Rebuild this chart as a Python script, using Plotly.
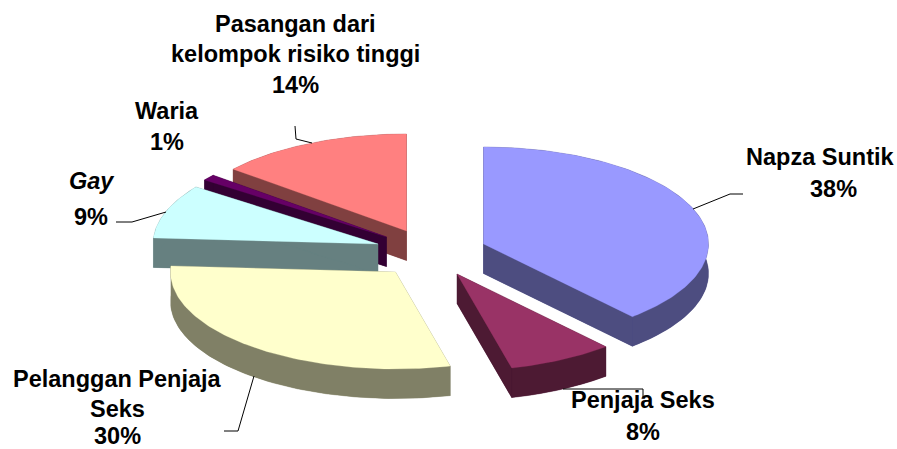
import math
import plotly.graph_objects as go

categories = ["Napza Suntik", "Penjaja Seks", "Pelanggan Penjaja Seks", "Gay", "Waria",
              "Pasangan dari kelompok risiko tinggi"]
shares = [38.49, 7.6, 29.91, 9.0, 1.0, 14.0]
top_colors = ["#9999FF", "#993366", "#FFFFCC", "#CCFFFF", "#660066", "#FF8080"]
side_colors = ["#4D4D80", "#4D1A33", "#808066", "#668080", "#330033", "#804040"]

# Geometry of the tilted pie (plot units = pixels)
RX, RY, DEPTH = 225, 97, 29.5
apex_x = [483.5, 457, 395.5, 378, 386.5, 406.5]
apex_y = [244, 274, 272, 244, 237, 231]
draw_order = [5, 4, 3, 2, 0, 1]

PAGE_W, PAGE_H = 897, 449


def rim(ax, ay, angle):
    a = math.radians(angle)
    return ax + RX * math.sin(a), ay - RY * math.cos(a)


def arc(ax, ay, a0, a1):
    n = max(2, int(abs(a1 - a0)) + 2)
    return [rim(ax, ay, a0 + (a1 - a0) * i / (n - 1)) for i in range(n)]


starts = []
acc = 0.0
for v in shares:
    starts.append(acc)
    acc += v
total = acc

fig = go.Figure()


def polygon_trace(p, color):
    xs = [q[0] for q in p] + [p[0][0]]
    ys = [q[1] for q in p] + [p[0][1]]
    fig.add_trace(go.Scatter(x=xs, y=ys, mode="lines", fill="toself", fillcolor=color,
                             line=dict(color=color, width=0.25), hoverinfo="skip", showlegend=False))


for i in draw_order:
    ax, ay = apex_x[i], apex_y[i]
    a0 = starts[i] / total * 360
    a1 = (starts[i] + shares[i]) / total * 360
    edge = arc(ax, ay, a0, a1)
    wedge = [(ax, ay)] + edge
    down = [(x, y + DEPTH) for x, y in wedge]
    faces = [
        down,
        [(ax, ay), edge[0], (edge[0][0], edge[0][1] + DEPTH), (ax, ay + DEPTH)],
        [(ax, ay), edge[-1], (edge[-1][0], edge[-1][1] + DEPTH), (ax, ay + DEPTH)],
        edge + [(x, y + DEPTH) for x, y in edge][::-1],
    ]
    for f in faces:
        polygon_trace(f, side_colors[i])
    polygon_trace(wedge, top_colors[i])

# Data labels: (text, x, y, italic)
pct = [f"{round(v)}%" for v in shares]
label_lines = [
    ("Napza Suntik", 820, 157, False), (pct[0], 833, 189, False),
    ("Penjaja Seks", 643, 400, False), (pct[1], 643, 432, False),
    ("Pelanggan Penjaja", 117, 379, False), ("Seks", 117, 409, False), (pct[2], 117, 435.5, False),
    ("Gay", 92, 181, True), (pct[3], 91, 217, False),
    ("Waria", 167, 111, False), (pct[4], 167, 142, False),
    ("Pasangan dari", 295, 24, False), ("kelompok risiko tinggi", 295, 54, False), (pct[5], 295, 85, False),
]
annotations = []
for text, x, y, it in label_lines:
    t = f"<b><i>{text}</i></b>" if it else f"<b>{text}</b>"
    annotations.append(dict(text=t, x=x, y=y, xref="x", yref="y", showarrow=False,
                            xanchor="center", yanchor="middle",
                            font=dict(family="Liberation Sans", size=23.5, color="#000000")))

leaders = [
    [(693, 209), (730, 194), (743, 194)],
    [(563, 389), (643, 389), (643, 397)],
    [(254, 376), (238, 431), (224, 431)],
    [(166, 212), (132, 222), (116, 222)],
    [(312, 143), (296, 139), (295, 126)],
]
shapes = []
for pts in leaders:
    path = "M " + " L ".join(f"{x},{y}" for x, y in pts)
    shapes.append(dict(type="path", path=path, xref="x", yref="y", layer="above",
                       line=dict(color="#000000", width=1)))

fig.update_layout(
    width=PAGE_W, height=PAGE_H, margin=dict(l=0, r=0, t=0, b=0),
    paper_bgcolor="#FFFFFF", plot_bgcolor="#FFFFFF", showlegend=False,
    xaxis=dict(range=[0, PAGE_W], visible=False, fixedrange=True),
    yaxis=dict(range=[PAGE_H, 0], visible=False, fixedrange=True),
    annotations=annotations, shapes=shapes,
)
fig.write_html("out.html", config={"displayModeBar": False},
               post_script="document.body.style.margin='0';document.documentElement.style.overflow='hidden';")
